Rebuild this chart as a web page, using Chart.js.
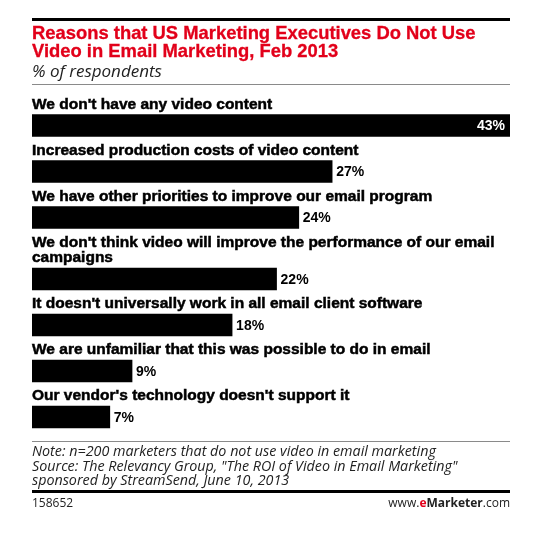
<!DOCTYPE html>
<html>
<head>
<meta charset="utf-8">
<script src="https://cdn.jsdelivr.net/npm/chart.js@4.4.1/dist/chart.umd.min.js"></script>
<style>
  html, body { margin: 0; padding: 0; background: #fff; }
  #wrap { position: relative; width: 537px; height: 533px; overflow: hidden; background: #fff; }
  #chartBox { position: absolute; left: 0; top: 0; width: 537px; height: 533px; }
  .rule { position: absolute; left: 32px; width: 478px; }
  #title { position: absolute; left: 32px; top: 24px; font: bold 18.4px "Liberation Sans", Arial, sans-serif; line-height: 18px; color: #e2001a; white-space: nowrap; -webkit-text-stroke: 0.3px #e2001a; }
  #subtitle { position: absolute; left: 32px; top: 61.5px; font: italic 17px "Open Sans", sans-serif; line-height: 18px; color: #222; white-space: nowrap; }
  #note { position: absolute; left: 32px; top: 444px; font: italic 14.3px "Open Sans", sans-serif; line-height: 14.5px; color: #222; white-space: nowrap; }
  #code { position: absolute; left: 32px; top: 496px; font: 12px "Open Sans", sans-serif; line-height: 14px; color: #222; }
  #brand { position: absolute; right: 27px; top: 496px; font: 12px "Open Sans", sans-serif; line-height: 14px; color: #222; }
  #brand b { font-weight: bold; }
  #brand .e { color: #e2001a; }
</style>
</head>
<body>
<div id="wrap">
  <div id="chartBox"><canvas id="c"></canvas></div>
  <div class="rule" style="top:18px;height:3px;background:#000"></div>
  <div id="title">Reasons that US Marketing Executives Do Not Use<br>Video in Email Marketing, Feb 2013</div>
  <div id="subtitle">% of respondents</div>
  <div class="rule" style="top:84px;height:1px;background:#8a8a8a"></div>
  <div class="rule" style="top:441px;height:1px;background:#8a8a8a"></div>
  <div id="note">Note: n=200 marketers that do not use video in email marketing<br>Source: The Relevancy Group, "The ROI of Video in Email Marketing"<br>sponsored by StreamSend, June 10, 2013</div>
  <div class="rule" style="top:489.5px;height:3px;background:#000"></div>
  <div id="code">158652</div>
  <div id="brand">www.<b class="e">e</b><b>Marketer</b>.com</div>
</div>
<script>
// ---- data ----
const categories = [
  ["We don't have any video content"],
  ["Increased production costs of video content"],
  ["We have other priorities to improve our email program"],
  ["We don't think video will improve the performance of our email", "campaigns"],
  ["It doesn't universally work in all email client software"],
  ["We are unfamiliar that this was possible to do in email"],
  ["Our vendor's technology doesn't support it"]
];
const values = [43, 27, 24, 22, 18, 9, 7];
const valueSuffix = "%";

// ---- layout helpers (slot positions derived from label line counts) ----
const EXTRA_LINE_UNITS = 15.5 / 46;
const slotPos = [];
let acc = 0;
categories.forEach((lines, i) => {
  if (i > 0) acc += 1;
  acc += (lines.length - 1) * EXTRA_LINE_UNITS;
  slotPos.push(acc);
});

const points = values.map((v, i) => ({ x: v, y: slotPos[i] }));

const labelFont = 'bold 15.5px "Liberation Sans", Arial, sans-serif';
const valueFont = 'bold 14px "Liberation Sans", Arial, sans-serif';

const labelPlugin = {
  id: 'barLabels',
  afterDatasetsDraw(chart) {
    const ctx = chart.ctx;
    const meta = chart.getDatasetMeta(0);
    const area = chart.chartArea;
    ctx.save();
    meta.data.forEach((bar, i) => {
      const props = bar.getProps(['x', 'y', 'base', 'height'], true);
      const top = props.y - props.height / 2;
      const left = props.base;
      // category label above bar
      ctx.font = labelFont;
      ctx.fillStyle = '#000';
      ctx.strokeStyle = '#000';
      ctx.lineWidth = 0.5;
      ctx.textAlign = 'left';
      ctx.textBaseline = 'alphabetic';
      const lines = categories[i];
      lines.forEach((ln, k) => {
        const baseline = top - 6 - (lines.length - 1 - k) * 15.5;
        ctx.fillText(ln, left, baseline);
        ctx.strokeText(ln, left, baseline);
      });
      // value label
      ctx.font = valueFont;
      ctx.textBaseline = 'middle';
      const txt = values[i] + valueSuffix;
      const w = ctx.measureText(txt).width;
      if (props.x + w + 8 > area.right) {
        ctx.fillStyle = '#fff';
        ctx.textAlign = 'right';
        ctx.fillText(txt, props.x - 5, props.y + 1);
      } else {
        ctx.fillStyle = '#000';
        ctx.textAlign = 'left';
        ctx.fillText(txt, props.x + 4, props.y + 1);
      }
    });
    ctx.restore();
  }
};

new Chart(document.getElementById('c'), {
  type: 'bar',
  data: {
    datasets: [{
      data: points,
      backgroundColor: '#000',
      borderWidth: 0,
      barThickness: 22
    }]
  },
  options: {
    indexAxis: 'y',
    responsive: true,
    maintainAspectRatio: false,
    animation: false,
    layout: { padding: { left: 32, right: 27, top: 102.5, bottom: 93 } },
    scales: {
      x: { type: 'linear', min: 0, max: 43, display: false },
      y: { type: 'linear', reverse: true, offset: false, min: -0.5, max: slotPos[slotPos.length - 1] + 0.5, display: false }
    },
    plugins: {
      legend: { display: false },
      tooltip: { enabled: false },
      title: { display: false }
    }
  },
  plugins: [labelPlugin]
});
</script>
</body>
</html>
